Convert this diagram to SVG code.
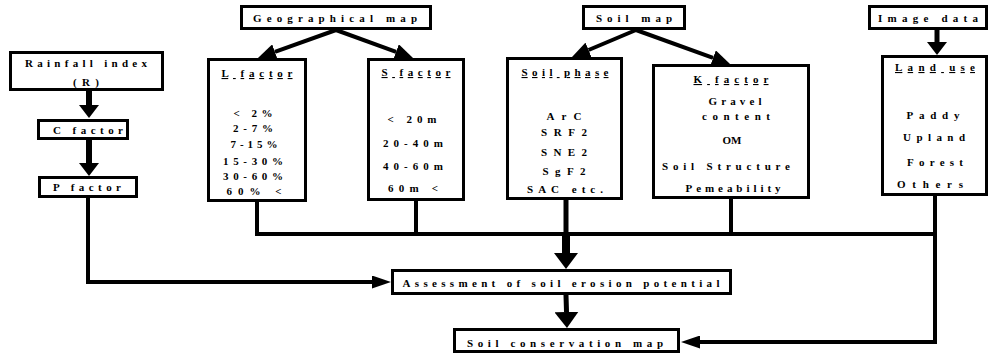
<svg xmlns="http://www.w3.org/2000/svg" width="993" height="354" viewBox="0 0 993 354">
  <style>
    .box { fill: #fff; stroke: #000; stroke-width: 3; }
    text { font-family: "Liberation Serif", "Times New Roman", serif; font-weight: bold; font-size: 11px; fill: #000; text-anchor: middle; }
    .hd { text-decoration: underline; }
    .ln { fill: none; stroke: #000; stroke-linejoin: miter; stroke-linecap: butt; }
  </style>
  <defs>
    <marker id="ah-v" markerUnits="userSpaceOnUse" markerWidth="13" markerHeight="20" refX="0" refY="10" orient="auto">
      <path d="M0,0 L13,10 L0,20 z" fill="#000"/>
    </marker>
    <marker id="ah-d" markerUnits="userSpaceOnUse" markerWidth="18" markerHeight="16" refX="0" refY="8" orient="auto">
      <path d="M0,0 L18,8 L0,16 z" fill="#000"/>
    </marker>
    <marker id="ah-w" markerUnits="userSpaceOnUse" markerWidth="16" markerHeight="24" refX="0" refY="12" orient="auto">
      <path d="M0,0 L16,12 L0,24 z" fill="#000"/>
    </marker>
    <marker id="ah-h" markerUnits="userSpaceOnUse" markerWidth="19" markerHeight="13" refX="0" refY="6.5" orient="auto">
      <path d="M0,0 L19,6.5 L0,13 z" fill="#000"/>
    </marker>
  </defs>

  <rect width="993" height="354" fill="#fff"/>

  <!-- connectors -->
  <g id="connectors">
    <!-- source maps to factor boxes -->
    <path class="ln" d="M336,30 L274.9,51.9" stroke-width="4" marker-end="url(#ah-d)"/>
    <path class="ln" d="M336,30 L396.1,51.8" stroke-width="4" marker-end="url(#ah-d)"/>
    <path class="ln" d="M636,30 L588.6,50" stroke-width="4" marker-end="url(#ah-d)"/>
    <path class="ln" d="M636,30 L713.1,57.9" stroke-width="4" marker-end="url(#ah-d)"/>
    <path class="ln" d="M937,30 V42" stroke-width="5" marker-end="url(#ah-v)"/>
    <!-- rainfall chain -->
    <path class="ln" d="M89,91 V105" stroke-width="6" marker-end="url(#ah-v)"/>
    <path class="ln" d="M89,140 V163" stroke-width="6" marker-end="url(#ah-v)"/>
    <path class="ln" d="M88,198 V282 H372" stroke-width="4" marker-end="url(#ah-h)"/>
    <!-- factor collector bus -->
    <path class="ln" d="M257,202 V234 H935" stroke-width="4"/>
    <path class="ln" d="M416,201 V234" stroke-width="4"/>
    <path class="ln" d="M731,199 V234" stroke-width="4"/>
    <path class="ln" d="M566,200 V234" stroke-width="5"/>
    <path class="ln" d="M566,232 V253" stroke-width="8" marker-end="url(#ah-w)"/>
    <!-- land use to conservation map -->
    <path class="ln" d="M935,196 V342 H700" stroke-width="4" marker-end="url(#ah-h)"/>
    <!-- assessment to conservation map -->
    <path class="ln" d="M566,295 L566.5,312" stroke-width="5" marker-end="url(#ah-w)"/>
  </g>

  <g id="geographical-map">
    <rect class="box" x="241.5" y="6.5" width="189" height="22"/>
    <text x="335" y="22" textLength="164" lengthAdjust="spacing">Geographical map</text>
  </g>
  <g id="soil-map">
    <rect class="box" x="583.5" y="6.5" width="101" height="22"/>
    <text x="634" y="22" textLength="76" lengthAdjust="spacing">Soil map</text>
  </g>
  <g id="image-data">
    <rect class="box" x="869.5" y="6.5" width="117" height="22"/>
    <text x="928" y="22" textLength="100" lengthAdjust="spacing">Image data</text>
  </g>

  <g id="rainfall-index">
    <rect class="box" x="10.5" y="52.5" width="152" height="37"/>
    <text x="86" y="67" textLength="122" lengthAdjust="spacing">Rainfall index</text>
    <text x="86" y="86" textLength="26" lengthAdjust="spacing">(R)</text>
  </g>
  <g id="c-factor">
    <rect class="box" x="38.5" y="120.5" width="89" height="18"/>
    <text x="88" y="134" textLength="70" lengthAdjust="spacing">C factor</text>
  </g>
  <g id="p-factor">
    <rect class="box" x="39.5" y="177.5" width="97" height="19"/>
    <text x="87" y="191" textLength="68" lengthAdjust="spacing">P factor</text>
  </g>

  <g id="l-factor">
    <rect class="box" x="208.5" y="59.5" width="97" height="141"/>
    <text class="hd" x="257" y="77" textLength="71" lengthAdjust="spacing">L factor</text>
    <text x="253" y="117" textLength="39" lengthAdjust="spacing">&lt; 2%</text>
    <text x="253" y="132" textLength="40" lengthAdjust="spacing">2-7%</text>
    <text x="254" y="148" textLength="47" lengthAdjust="spacing">7-15%</text>
    <text x="253" y="165" textLength="60" lengthAdjust="spacing">15-30%</text>
    <text x="253" y="180" textLength="60" lengthAdjust="spacing">30-60%</text>
    <text x="254" y="195" textLength="55" lengthAdjust="spacing">60% &lt;</text>
  </g>

  <g id="s-factor">
    <rect class="box" x="368.5" y="59.5" width="95" height="140"/>
    <text class="hd" x="416" y="76" textLength="69" lengthAdjust="spacing">S factor</text>
    <text x="412" y="123" textLength="49" lengthAdjust="spacing">&lt; 20m</text>
    <text x="413" y="147" textLength="60" lengthAdjust="spacing">20-40m</text>
    <text x="413" y="170" textLength="60" lengthAdjust="spacing">40-60m</text>
    <text x="413" y="192" textLength="50" lengthAdjust="spacing">60m &lt;</text>
  </g>

  <g id="soil-phase">
    <rect class="box" x="507.5" y="58.5" width="114" height="140"/>
    <text class="hd" x="565" y="76" textLength="87" lengthAdjust="spacing">Soil phase</text>
    <text x="564" y="120" textLength="35" lengthAdjust="spacing">ArC</text>
    <text x="564" y="136" textLength="46" lengthAdjust="spacing">SRF2</text>
    <text x="564" y="156" textLength="46" lengthAdjust="spacing">SNE2</text>
    <text x="564" y="175" textLength="43" lengthAdjust="spacing">SgF2</text>
    <text x="565" y="193" textLength="76" lengthAdjust="spacing">SAC etc.</text>
  </g>

  <g id="k-factor">
    <rect class="box" x="653.5" y="65.5" width="155" height="132"/>
    <text class="hd" x="731" y="83" textLength="75" lengthAdjust="spacing">K factor</text>
    <text x="735" y="105" textLength="53" lengthAdjust="spacing">Gravel</text>
    <text x="736" y="120" textLength="68" lengthAdjust="spacing">content</text>
    <text x="732" y="144" textLength="19" lengthAdjust="spacing">OM</text>
    <text x="726" y="170" textLength="128" lengthAdjust="spacing">Soil Structure</text>
    <text x="733" y="192" textLength="95" lengthAdjust="spacing">Pemeability</text>
  </g>

  <g id="land-use">
    <rect class="box" x="882.5" y="56.5" width="104" height="138"/>
    <text class="hd" x="935" y="71" textLength="80" lengthAdjust="spacing">Land use</text>
    <text x="933" y="119" textLength="53" lengthAdjust="spacing">Paddy</text>
    <text x="934" y="141" textLength="62" lengthAdjust="spacing">Upland</text>
    <text x="935" y="166" textLength="56" lengthAdjust="spacing">Forest</text>
    <text x="930" y="188" textLength="66" lengthAdjust="spacing">Others</text>
  </g>

  <g id="assessment">
    <rect class="box" x="392.5" y="270.5" width="338" height="23"/>
    <text x="561" y="287" textLength="317" lengthAdjust="spacing">Assessment of soil erosion potential</text>
  </g>

  <g id="soil-conservation-map">
    <rect class="box" x="454.5" y="329.5" width="224" height="22"/>
    <text x="565" y="347" textLength="196" lengthAdjust="spacing">Soil conservation map</text>
  </g>
</svg>
